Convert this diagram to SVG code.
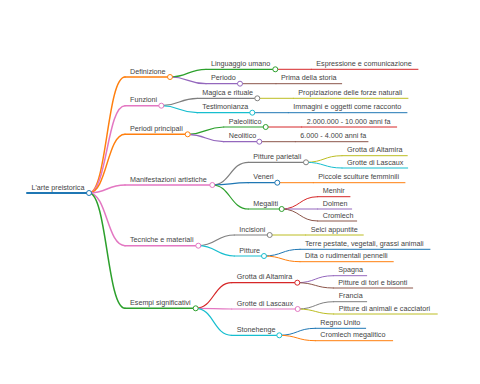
<svg xmlns="http://www.w3.org/2000/svg" width="480" height="384" viewBox="0 0 480 384">
<style>
text{font-family:"Liberation Sans",Arial,sans-serif;font-size:7.2px;fill:#444}
path,line{fill:none;stroke-linecap:round}
circle{fill:#fff;stroke-width:1}
.w0{stroke-width:2}.w1{stroke-width:1.5}.w2{stroke-width:1.2}.w3{stroke-width:1}
.c-b{stroke:#1f77b4}.c-o{stroke:#ff7f0e}.c-g{stroke:#2ca02c}.c-r{stroke:#d62728}.c-p{stroke:#9467bd}.c-br{stroke:#8c564b}.c-pk{stroke:#e377c2}.c-gy{stroke:#7f7f7f}.c-ol{stroke:#bcbd22}.c-cy{stroke:#17becf}
</style>
<rect width="480" height="384" fill="#fff"/>
<g id="connectors">
<path class="w1 c-o" d="M89,193 C107,193 107,77 125,77"/>
<path class="w1 c-pk" d="M89,193 C107,193 107,105.7 125,105.7"/>
<path class="w1 c-o" d="M89,193 C107,193 107,134.3 125,134.3"/>
<path class="w1 c-pk" d="M89,193 C107,193 107,185 125,185"/>
<path class="w1 c-pk" d="M89,193 C107,193 107,245.7 125,245.7"/>
<path class="w1 c-g" d="M89,193 C107,193 107,308.3 125,308.3"/>
<path class="w2 c-g" d="M170,77 C188,77 188,69.3 206,69.3"/>
<path class="w2 c-p" d="M170,77 C188,77 188,83.7 206,83.7"/>
<path class="w3 c-r" d="M275.3,69.3 L311.3,69.3"/>
<path class="w3 c-br" d="M240,83.7 L276,83.7"/>
<path class="w2 c-gy" d="M161.3,105.7 C179.3,105.7 179.3,98.3 197.3,98.3"/>
<path class="w2 c-cy" d="M161.3,105.7 C179.3,105.7 179.3,112.7 197.3,112.7"/>
<path class="w3 c-ol" d="M257.3,98.3 L293.3,98.3"/>
<path class="w3 c-b" d="M252.3,112.7 L288.3,112.7"/>
<path class="w2 c-g" d="M187.7,134.3 C205.7,134.3 205.7,127 223.7,127"/>
<path class="w2 c-p" d="M187.7,134.3 C205.7,134.3 205.7,141.7 223.7,141.7"/>
<path class="w3 c-r" d="M265.7,127 L301.7,127"/>
<path class="w3 c-br" d="M259.3,141.7 L295.3,141.7"/>
<path class="w2 c-gy" d="M212.3,185 C230.3,185 230.3,162.3 248.3,162.3"/>
<path class="w2 c-b" d="M212.3,185 C230.3,185 230.3,182.7 248.3,182.7"/>
<path class="w2 c-g" d="M212.3,185 C230.3,185 230.3,209 248.3,209"/>
<path class="w3 c-ol" d="M306,162.3 C324,162.3 324,155.7 342,155.7"/>
<path class="w3 c-cy" d="M306,162.3 C324,162.3 324,168 342,168"/>
<path class="w3 c-o" d="M277.3,182.7 L313.3,182.7"/>
<path class="w3 c-r" d="M281.7,209 C299.7,209 299.7,196.7 317.7,196.7"/>
<path class="w3 c-p" d="M281.7,209 L317.7,209"/>
<path class="w3 c-br" d="M281.7,209 C299.7,209 299.7,221 317.7,221"/>
<path class="w2 c-gy" d="M198.3,245.7 C216.3,245.7 216.3,235 234.3,235"/>
<path class="w2 c-cy" d="M198.3,245.7 C216.3,245.7 216.3,256 234.3,256"/>
<path class="w3 c-ol" d="M269.7,235 L305.7,235"/>
<path class="w3 c-b" d="M264,256 C282,256 282,249.3 300,249.3"/>
<path class="w3 c-o" d="M264,256 C282,256 282,261.7 300,261.7"/>
<path class="w2 c-r" d="M195.7,308.3 C213.7,308.3 213.7,282.7 231.7,282.7"/>
<path class="w2 c-pk" d="M195.7,308.3 C213.7,308.3 213.7,309 231.7,309"/>
<path class="w2 c-cy" d="M195.7,308.3 C213.7,308.3 213.7,335.3 231.7,335.3"/>
<path class="w3 c-p" d="M297.3,282.7 C315.3,282.7 315.3,275.7 333.3,275.7"/>
<path class="w3 c-br" d="M297.3,282.7 C315.3,282.7 315.3,288 333.3,288"/>
<path class="w3 c-gy" d="M297.7,309 C315.7,309 315.7,301.7 333.7,301.7"/>
<path class="w3 c-ol" d="M297.7,309 C315.7,309 315.7,314 333.7,314"/>
<path class="w3 c-b" d="M279.3,335.3 C297.3,335.3 297.3,328.3 315.3,328.3"/>
<path class="w3 c-o" d="M279.3,335.3 C297.3,335.3 297.3,340.7 315.3,340.7"/>
</g>
<g id="root"><line class="w0 c-b" x1="27" y1="193" x2="89" y2="193"/><circle class="c-b" cx="89" cy="193" r="2.5"/><text x="31.5" y="189.5">L'arte preistorica</text></g>
<g id="n1"><line class="w1 c-o" x1="125" y1="77" x2="170" y2="77"/><circle class="c-o" cx="170" cy="77" r="2.5"/><text x="130" y="73.5">Definizione</text></g>
<g id="n1a"><line class="w2 c-g" x1="206" y1="69.3" x2="275.3" y2="69.3"/><circle class="c-g" cx="275.3" cy="69.3" r="2.5"/><text x="211" y="65.8">Linguaggio umano</text></g>
<g id="n1a1"><line class="w3 c-r" x1="311.3" y1="69.3" x2="418" y2="69.3"/><text x="316.3" y="65.8">Espressione e comunicazione</text></g>
<g id="n1b"><line class="w2 c-p" x1="206" y1="83.7" x2="240" y2="83.7"/><circle class="c-p" cx="240" cy="83.7" r="2.5"/><text x="211" y="80.2">Periodo</text></g>
<g id="n1b1"><line class="w3 c-br" x1="276" y1="83.7" x2="341.7" y2="83.7"/><text x="281" y="80.2">Prima della storia</text></g>
<g id="n2"><line class="w1 c-pk" x1="125" y1="105.7" x2="161.3" y2="105.7"/><circle class="c-pk" cx="161.3" cy="105.7" r="2.5"/><text x="130" y="102.2">Funzioni</text></g>
<g id="n2a"><line class="w2 c-gy" x1="197.3" y1="98.3" x2="257.3" y2="98.3"/><circle class="c-gy" cx="257.3" cy="98.3" r="2.5"/><text x="202.3" y="94.8">Magica e rituale</text></g>
<g id="n2a1"><line class="w3 c-ol" x1="293.3" y1="98.3" x2="408" y2="98.3"/><text x="298.3" y="94.8">Propiziazione delle forze naturali</text></g>
<g id="n2b"><line class="w2 c-cy" x1="197.3" y1="112.7" x2="252.3" y2="112.7"/><circle class="c-cy" cx="252.3" cy="112.7" r="2.5"/><text x="202.3" y="109.2">Testimonianza</text></g>
<g id="n2b1"><line class="w3 c-b" x1="288.3" y1="112.7" x2="407" y2="112.7"/><text x="293.3" y="109.2">Immagini e oggetti come racconto</text></g>
<g id="n3"><line class="w1 c-o" x1="125" y1="134.3" x2="187.7" y2="134.3"/><circle class="c-o" cx="187.7" cy="134.3" r="2.5"/><text x="130" y="130.8">Periodi principali</text></g>
<g id="n3a"><line class="w2 c-g" x1="223.7" y1="127" x2="265.7" y2="127"/><circle class="c-g" cx="265.7" cy="127" r="2.5"/><text x="228.7" y="123.5">Paleolitico</text></g>
<g id="n3a1"><line class="w3 c-r" x1="301.7" y1="127" x2="396.7" y2="127"/><text x="306.7" y="123.5">2.000.000 - 10.000 anni fa</text></g>
<g id="n3b"><line class="w2 c-p" x1="223.7" y1="141.7" x2="259.3" y2="141.7"/><circle class="c-p" cx="259.3" cy="141.7" r="2.5"/><text x="228.7" y="138.2">Neolitico</text></g>
<g id="n3b1"><line class="w3 c-br" x1="295.3" y1="141.7" x2="368" y2="141.7"/><text x="300.3" y="138.2">6.000 - 4.000 anni fa</text></g>
<g id="n4"><line class="w1 c-pk" x1="125" y1="185" x2="212.3" y2="185"/><circle class="c-pk" cx="212.3" cy="185" r="2.5"/><text x="130" y="181.5">Manifestazioni artistiche</text></g>
<g id="n4a"><line class="w2 c-gy" x1="248.3" y1="162.3" x2="306" y2="162.3"/><circle class="c-gy" cx="306" cy="162.3" r="2.5"/><text x="253.3" y="158.8">Pitture parietali</text></g>
<g id="n4a1"><line class="w3 c-ol" x1="342" y1="155.7" x2="407.3" y2="155.7"/><text x="347" y="152.2">Grotta di Altamira</text></g>
<g id="n4a2"><line class="w3 c-cy" x1="342" y1="168" x2="407.7" y2="168"/><text x="347" y="164.5">Grotte di Lascaux</text></g>
<g id="n4b"><line class="w2 c-b" x1="248.3" y1="182.7" x2="277.3" y2="182.7"/><circle class="c-b" cx="277.3" cy="182.7" r="2.5"/><text x="253.3" y="179.2">Veneri</text></g>
<g id="n4b1"><line class="w3 c-o" x1="313.3" y1="182.7" x2="405" y2="182.7"/><text x="318.3" y="179.2">Piccole sculture femminili</text></g>
<g id="n4c"><line class="w2 c-g" x1="248.3" y1="209" x2="281.7" y2="209"/><circle class="c-g" cx="281.7" cy="209" r="2.5"/><text x="253.3" y="205.5">Megaliti</text></g>
<g id="n4c1"><line class="w3 c-r" x1="317.7" y1="196.7" x2="350" y2="196.7"/><text x="322.7" y="193.2">Menhir</text></g>
<g id="n4c2"><line class="w3 c-p" x1="317.7" y1="209" x2="351.7" y2="209"/><text x="322.7" y="205.5">Dolmen</text></g>
<g id="n4c3"><line class="w3 c-br" x1="317.7" y1="221" x2="356.7" y2="221"/><text x="322.7" y="217.5">Cromlech</text></g>
<g id="n5"><line class="w1 c-pk" x1="125" y1="245.7" x2="198.3" y2="245.7"/><circle class="c-pk" cx="198.3" cy="245.7" r="2.5"/><text x="130" y="242.2">Tecniche e materiali</text></g>
<g id="n5a"><line class="w2 c-gy" x1="234.3" y1="235" x2="269.7" y2="235"/><circle class="c-gy" cx="269.7" cy="235" r="2.5"/><text x="239.3" y="231.5">Incisioni</text></g>
<g id="n5a1"><line class="w3 c-ol" x1="305.7" y1="235" x2="363.3" y2="235"/><text x="310.7" y="231.5">Selci appuntite</text></g>
<g id="n5b"><line class="w2 c-cy" x1="234.3" y1="256" x2="264" y2="256"/><circle class="c-cy" cx="264" cy="256" r="2.5"/><text x="239.3" y="252.5">Pitture</text></g>
<g id="n5b1"><line class="w3 c-b" x1="300" y1="249.3" x2="430" y2="249.3"/><text x="305" y="245.8">Terre pestate, vegetali, grassi animali</text></g>
<g id="n5b2"><line class="w3 c-o" x1="300" y1="261.7" x2="393.3" y2="261.7"/><text x="305" y="258.2">Dita o rudimentali pennelli</text></g>
<g id="n6"><line class="w1 c-g" x1="125" y1="308.3" x2="195.7" y2="308.3"/><circle class="c-g" cx="195.7" cy="308.3" r="2.5"/><text x="130" y="304.8">Esempi significativi</text></g>
<g id="n6a"><line class="w2 c-r" x1="231.7" y1="282.7" x2="297.3" y2="282.7"/><circle class="c-r" cx="297.3" cy="282.7" r="2.5"/><text x="236.7" y="279.2">Grotta di Altamira</text></g>
<g id="n6a1"><line class="w3 c-p" x1="333.3" y1="275.7" x2="366.7" y2="275.7"/><text x="338.3" y="272.2">Spagna</text></g>
<g id="n6a2"><line class="w3 c-br" x1="333.3" y1="288" x2="412.7" y2="288"/><text x="338.3" y="284.5">Pitture di tori e bisonti</text></g>
<g id="n6b"><line class="w2 c-pk" x1="231.7" y1="309" x2="297.7" y2="309"/><circle class="c-pk" cx="297.7" cy="309" r="2.5"/><text x="236.7" y="305.5">Grotte di Lascaux</text></g>
<g id="n6b1"><line class="w3 c-gy" x1="333.7" y1="301.7" x2="366.7" y2="301.7"/><text x="338.7" y="298.2">Francia</text></g>
<g id="n6b2"><line class="w3 c-ol" x1="333.7" y1="314" x2="437.3" y2="314"/><text x="338.7" y="310.5">Pitture di animali e cacciatori</text></g>
<g id="n6c"><line class="w2 c-cy" x1="231.7" y1="335.3" x2="279.3" y2="335.3"/><circle class="c-cy" cx="279.3" cy="335.3" r="2.5"/><text x="236.7" y="331.8">Stonehenge</text></g>
<g id="n6c1"><line class="w3 c-b" x1="315.3" y1="328.3" x2="365.7" y2="328.3"/><text x="320.3" y="324.8">Regno Unito</text></g>
<g id="n6c2"><line class="w3 c-o" x1="315.3" y1="340.7" x2="392.7" y2="340.7"/><text x="320.3" y="337.2">Cromlech megalitico</text></g>
</svg>
